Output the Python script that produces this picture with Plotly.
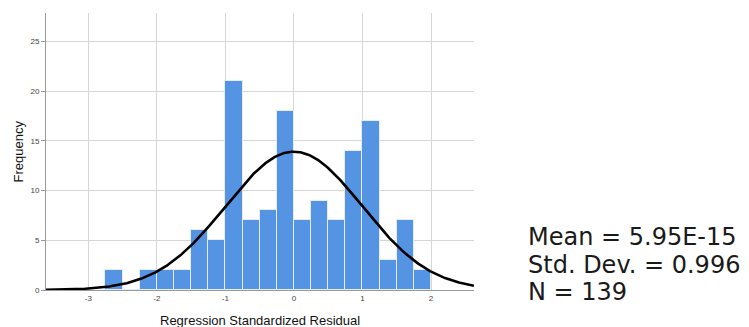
import numpy as np
import plotly.graph_objects as go

# Histogram of regression standardized residuals (bin width 0.25)
bin_start = -2.75
bin_width = 0.25
counts = [2, 0, 2, 2, 2, 6, 5, 21, 7, 8, 18, 7, 9, 7, 14, 17, 3, 7, 2]

# Summary statistics
mean_val = 5.95e-15
std_val = 0.996
n_obs = 139

x_ticks = [-3, -2, -1, 0, 1, 2]
y_ticks = [0, 5, 10, 15, 20, 25]
x_range = [-3.617, 2.627]
y_range = [0, 27.87]

x_title = "Regression Standardized Residual"
y_title = "Frequency"

W, H = 749, 327
L, R, T, B = 46, 275, 13, 37

centers = [bin_start + bin_width * (i + 0.5) for i in range(len(counts))]

# Normal curve scaled to counts
xs = np.linspace(x_range[0], x_range[1], 400)
ys = n_obs * bin_width / (std_val * np.sqrt(2 * np.pi)) * np.exp(-0.5 * ((xs - mean_val) / std_val) ** 2)

fig = go.Figure()
fig.add_trace(go.Bar(
    x=centers, y=counts, width=bin_width,
    marker=dict(color="#5594E2", line=dict(color="#E4ECF8", width=1)),
    hoverinfo="skip",
))
fig.add_trace(go.Scatter(
    x=xs, y=ys, mode="lines",
    line=dict(color="#000000", width=2.6),
    hoverinfo="skip",
))

fig.update_layout(
    width=W, height=H,
    margin=dict(l=L, r=R, t=T, b=B),
    paper_bgcolor="white", plot_bgcolor="white",
    showlegend=False, bargap=0,
    font=dict(family="Liberation Sans, Arial, sans-serif", color="#222222"),
)
fig.update_xaxes(
    range=x_range, tickvals=x_ticks, ticktext=[str(v) for v in x_ticks],
    showgrid=True, gridcolor="#D6D6D6", gridwidth=1,
    showline=True, linecolor="#9A9A9A", linewidth=1,
    ticks="", tickfont=dict(size=8, color="#444444"),
    zeroline=False, automargin=False,
)
fig.update_yaxes(
    range=y_range, tickvals=y_ticks,
    showgrid=True, gridcolor="#D6D6D6", gridwidth=1,
    showline=True, linecolor="#9A9A9A", linewidth=1,
    ticks="outside", ticklen=4, tickcolor="#9A9A9A",
    tickfont=dict(size=8, color="#444444"),
    zeroline=False, automargin=False,
)

pw, ph = W - L - R, H - T - B


def px_to_paper(px, py):
    return (px - L) / pw, (H - B - py) / ph


# Axis titles
tx, ty = px_to_paper(260, 320)
fig.add_annotation(text=x_title, xref="paper", yref="paper", x=tx, y=ty,
                   xanchor="center", yanchor="middle", showarrow=False,
                   font=dict(size=13, color="#111111"))
tx, ty = px_to_paper(17.5, 152)
fig.add_annotation(text=y_title, xref="paper", yref="paper", x=tx, y=ty,
                   xanchor="center", yanchor="middle", showarrow=False, textangle=-90,
                   font=dict(size=13, color="#111111"))

# Statistics block
stats_lines = [f"Mean = {mean_val:.2E}".replace("E-0", "E-"),
               f"Std. Dev. = {std_val}",
               f"N = {n_obs}"]
stats_y = [237, 264.5, 292]
for txt, yy in zip(stats_lines, stats_y):
    tx, ty = px_to_paper(527, yy)
    fig.add_annotation(
        text=txt, xref="paper", yref="paper",
        x=tx, xanchor="left", y=ty, yanchor="middle",
        height=24, valign="middle", borderpad=0,
        showarrow=False,
        font=dict(size=24, color="#1A1A1A", family="DejaVu Sans, sans-serif"),
    )

fig.write_html("out.html")
